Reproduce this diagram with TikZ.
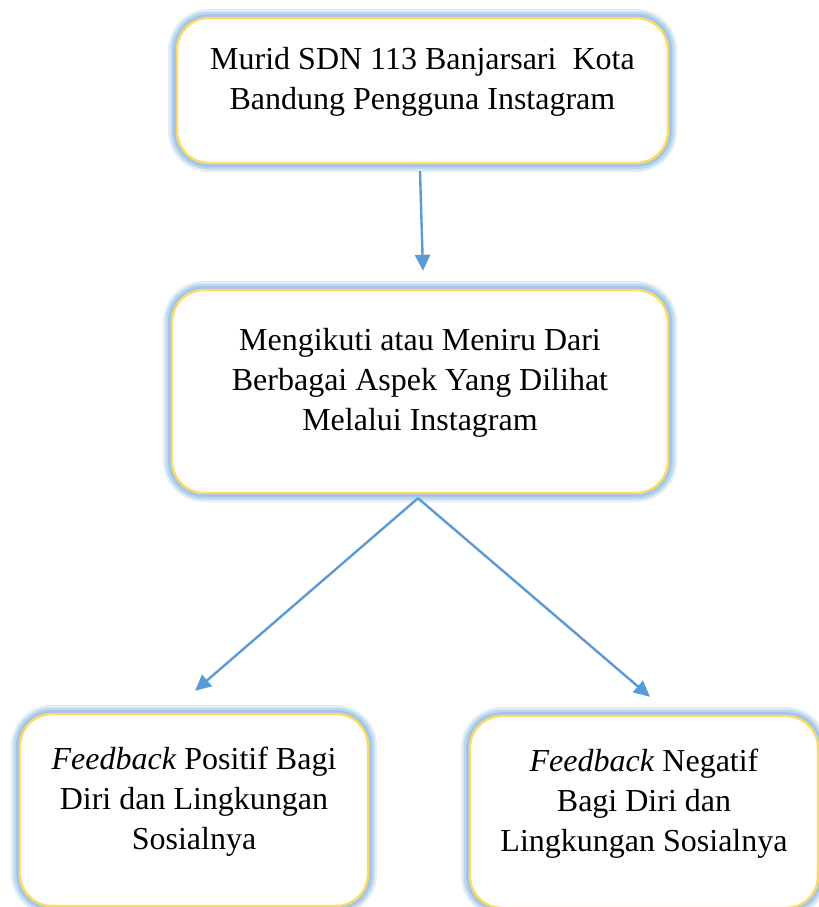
\documentclass[tikz,border=0pt]{standalone}
\usepackage{fontspec}
\setmainfont{Liberation Serif}
\usetikzlibrary{arrows.meta}
\definecolor{glowblue}{HTML}{9DC3E6}
\definecolor{boxyellow}{HTML}{FFD966}
\definecolor{arrowblue}{HTML}{5B9BD5}
\begin{document}
\begin{tikzpicture}[x=0.5pt,y=-0.5pt,
    box/.style={rectangle, rounded corners=16pt, fill=white, draw=boxyellow, line width=1.2pt, inner sep=0pt,
      align=center, font=\fontsize{16}{20}\selectfont, text depth=12pt,
      preaction={draw=glowblue, draw opacity=0.3, line width=9pt},
      preaction={draw=glowblue, draw opacity=0.5, line width=6.5pt},
      preaction={draw=glowblue, draw opacity=0.85, line width=4pt}},
    arr/.style={draw=arrowblue, line width=1.2pt, -{Triangle[length=8pt,width=7.5pt]}}]
  \useasboundingbox (0,0) rectangle (819,907);
  \clip (0,0) rectangle (819,907);
  \node[box, minimum width=245.5pt, minimum height=72.5pt] (murid) at (422.5,90.5) {Murid SDN 113 Banjarsari\ \ Kota\\Bandung Pengguna Instagram};
  \node[box, minimum width=248pt, minimum height=101.5pt] (tiru) at (420,391.5) {Mengikuti atau Meniru Dari\\Berbagai Aspek Yang Dilihat\\Melalui Instagram};
  \node[box, minimum width=174pt, minimum height=96pt] (positif) at (194,810) {\textit{Feedback} Positif Bagi\\Diri dan Lingkungan\\Sosialnya};
  \node[box, minimum width=174pt, minimum height=96pt] (negatif) at (644,812) {\textit{Feedback} Negatif\\Bagi Diri dan\\Lingkungan Sosialnya};
  \draw[arr] ([xshift=-1.25pt,yshift=-3.5pt]murid.south) -- ([xshift=1.5pt,yshift=9pt]tiru.north);
  \draw[arr] ([xshift=-1pt,yshift=-2pt]tiru.south) -- ([xshift=0.5pt,yshift=11pt]positif.north);
  \draw[arr] ([xshift=-1pt,yshift=-2pt]tiru.south) -- ([xshift=3pt,yshift=9pt]negatif.north);
\end{tikzpicture}
\end{document}
